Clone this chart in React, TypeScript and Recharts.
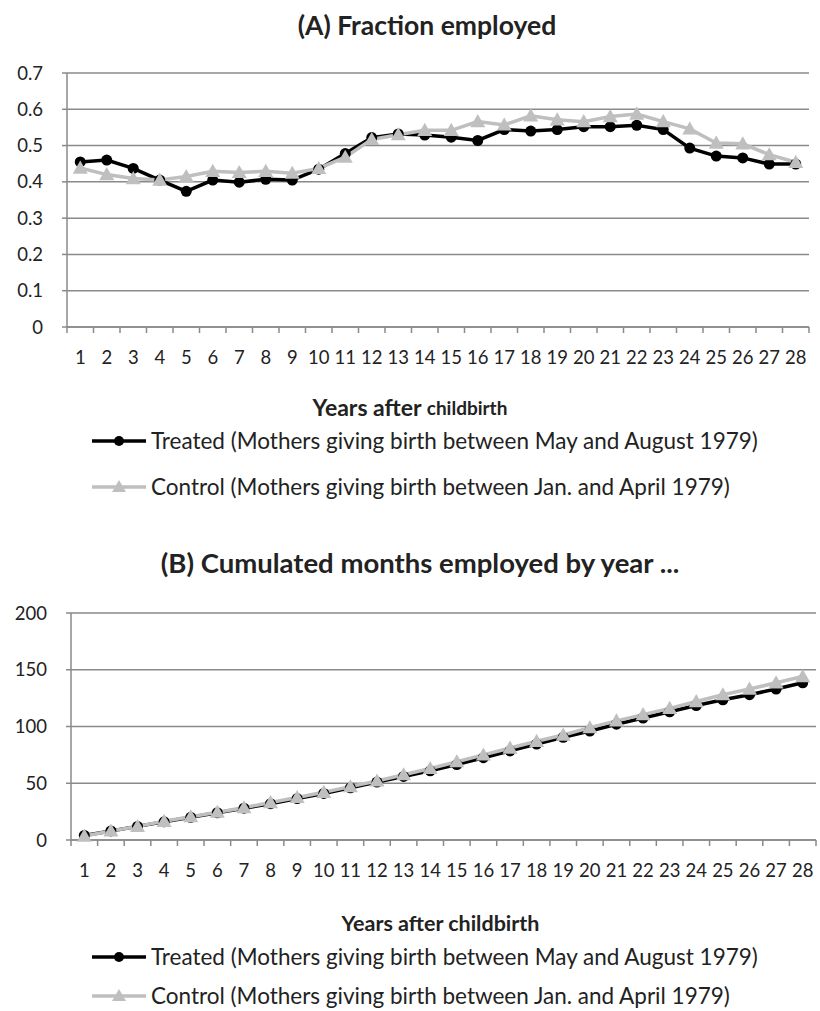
import React from 'react';
import { LineChart, Line, XAxis, YAxis, CartesianGrid, Legend } from 'recharts';

// Years after childbirth (x categories)
const years = [1, 2, 3, 4, 5, 6, 7, 8, 9, 10, 11, 12, 13, 14, 15, 16, 17, 18, 19, 20, 21, 22, 23, 24, 25, 26, 27, 28];

// Panel A: fraction employed
const treatedFraction = [0.455, 0.46, 0.437, 0.405, 0.374, 0.405, 0.399, 0.407, 0.405, 0.435, 0.478, 0.522, 0.532, 0.529, 0.523, 0.514, 0.544, 0.54, 0.544, 0.552, 0.552, 0.556, 0.544, 0.493, 0.471, 0.466, 0.449, 0.449];
const controlFraction = [0.438, 0.42, 0.409, 0.405, 0.415, 0.429, 0.426, 0.429, 0.424, 0.437, 0.468, 0.517, 0.53, 0.542, 0.542, 0.566, 0.557, 0.582, 0.571, 0.566, 0.58, 0.587, 0.566, 0.546, 0.507, 0.505, 0.475, 0.454];
const fractionTicks = [0, 0.1, 0.2, 0.3, 0.4, 0.5, 0.6, 0.7];

// Panel B: cumulated months employed
const treatedMonths = [4, 8, 12, 16, 20, 24, 28, 32, 36.5, 41, 46, 51, 56, 61, 66.5, 72.5, 78.5, 84.5, 90.5, 96, 102, 107.5, 113, 118.5, 123.5, 128, 133, 138.5];
const controlMonths = [3.5, 8, 12, 16.5, 20.5, 24.5, 28.5, 33, 37.5, 42, 47, 52, 57.5, 63, 69, 75, 81, 87, 92.5, 99, 105, 110.5, 116, 122, 128, 133, 138.5, 144];
const monthTicks = [0, 50, 100, 150, 200];

const treatedName = 'Treated (Mothers giving birth between May and August 1979)';
const controlName = 'Control (Mothers giving birth between Jan. and April 1979)';
const seriesOrder = ['treated', 'control'];

const FONT = 'Lato, "Open Sans", sans-serif';
const GRID = '#8a8a8a';
const TEXT = '#222222';
const TREATED = '#000000';
const CONTROL = '#bfbfbf';

const dataA = years.map((y, i) => ({ year: y, treated: treatedFraction[i], control: controlFraction[i] }));
const dataB = years.map((y, i) => ({ year: y, treated: treatedMonths[i], control: controlMonths[i] }));

const CircleDot = (props: any) => {
  const { cx, cy, index } = props;
  if (cx == null || cy == null) return null;
  return <circle key={`c-${index}`} cx={cx} cy={cy} r={5.5} fill={TREATED} />;
};

const TriangleDot = (props: any) => {
  const { cx, cy, index } = props;
  if (cx == null || cy == null) return null;
  const s = 7.5;
  return <path key={`t-${index}`} d={`M${cx},${cy - s} L${cx + s},${cy + s * 0.75} L${cx - s},${cy + s * 0.75} Z`} fill={CONTROL} />;
};

// Excel-like category axis: label in the middle, tick marks on the category edges
const makeXTick = (bandW: number, labelDy: number) => (props: any) => {
  const { x, y, payload, index } = props;
  const half = bandW / 2;
  return (
    <g>
      {index === 0 && <line x1={x - half} x2={x - half} y1={y} y2={y + 6} stroke={GRID} strokeWidth={1.5} />}
      <line x1={x + half} x2={x + half} y1={y} y2={y + 6} stroke={GRID} strokeWidth={1.5} />
      <text x={x} y={y + labelDy} textAnchor="middle" fill={TEXT} fontSize={18.5} fontFamily={FONT}>{payload.value}</text>
    </g>
  );
};

const LegendIcon = ({ kind }: { kind: string }) => (
  <svg width={54} height={18} style={{ display: 'block' }}>
    <line x1={0} y1={9} x2={54} y2={9} stroke={kind === 'treated' ? TREATED : CONTROL} strokeWidth={3.5} />
    {kind === 'treated'
      ? <circle cx={27} cy={9} r={5} fill={TREATED} />
      : <path d="M27,2 L34,14 L20,14 Z" fill={CONTROL} />}
  </svg>
);

const makeLegend = (rowH: number) => (props: any) => {
  const items = [...(props.payload || [])].sort(
    (a: any, b: any) => seriesOrder.indexOf(a.dataKey) - seriesOrder.indexOf(b.dataKey));
  return (
    <div style={{ paddingLeft: 92, fontFamily: FONT }}>
      {items.map((p: any) => (
        <div key={p.dataKey} style={{ height: rowH, display: 'flex', alignItems: 'center' }}>
          <LegendIcon kind={p.dataKey} />
          <span style={{ marginLeft: 5, fontSize: 22.5, lineHeight: '24px', color: TEXT, whiteSpace: 'nowrap' }}>{p.value}</span>
        </div>
      ))}
    </div>
  );
};

const makeAxisTitle = (dy: number, cxOffset: number, mixed: boolean) => (props: any) => {
  const vb = props.viewBox;
  return (
    <text x={vb.x + vb.width / 2 + cxOffset} y={vb.y + dy} textAnchor="middle" dominantBaseline="middle"
      fontFamily={FONT} fontWeight="bold" fill={TEXT} fontSize={mixed ? 23 : 21.5}>
      {mixed
        ? <><tspan>Years after </tspan><tspan fontSize={19}>childbirth</tspan></>
        : 'Years after childbirth'}
    </text>
  );
};

interface PanelProps {
  data: any[];
  height: number;
  yWidth: number;
  rightMargin: number;
  yDomain: number[];
  yTicks: number[];
  fmt: (v: number) => string;
  labelAxisH: number;
  labelDy: number;
  titleDy: number;
  titleDx: number;
  mixedTitle: boolean;
  rowH: number;
}

const CHART_W = 820;

const Panel: React.FC<PanelProps> = (p) => {
  const bandW = (CHART_W - p.yWidth - p.rightMargin) / years.length;
  return (
    <LineChart width={CHART_W} height={p.height} data={p.data} margin={{ top: 23, right: p.rightMargin, left: 0, bottom: 0 }}>
      <CartesianGrid horizontal vertical={false} stroke={GRID} strokeWidth={1.5} />
      <XAxis dataKey="year" type="number" domain={[0.5, 28.5]} ticks={years} interval={0}
        stroke={GRID} strokeWidth={1.5} tickLine={false} tickSize={0} tickMargin={0} height={p.labelAxisH}
        tick={makeXTick(bandW, p.labelDy)}
        label={makeAxisTitle(p.titleDy, p.titleDx, p.mixedTitle)} allowDataOverflow />
      <YAxis width={p.yWidth} domain={p.yDomain} ticks={p.yTicks} interval={0} tickFormatter={p.fmt}
        stroke={GRID} strokeWidth={1.5} tickSize={5} tickMargin={19}
        tick={{ fill: TEXT, fontSize: 18.5, fontFamily: FONT }} />
      <Legend verticalAlign="bottom" align="left" wrapperStyle={{ left: 0 }} content={makeLegend(p.rowH)} />
      <Line dataKey="treated" name={treatedName} stroke={TREATED} strokeWidth={3.5} dot={CircleDot} activeDot={false} isAnimationActive={false} />
      <Line dataKey="control" name={controlName} stroke={CONTROL} strokeWidth={3.5} dot={TriangleDot} activeDot={false} isAnimationActive={false} />
    </LineChart>
  );
};

const titleStyle: React.CSSProperties = { fontFamily: FONT, fontWeight: 'bold', color: TEXT, textAlign: 'center', whiteSpace: 'nowrap' };

export default function App() {
  return (
    <div style={{ position: 'absolute', left: 0, top: 0, width: CHART_W, background: '#fff' }}>
      <div style={{ ...titleStyle, fontSize: 26.5, height: 50, lineHeight: '50px', paddingLeft: 34 }}>(A) Fraction employed</div>
      <Panel data={dataA} height={460} yWidth={67} rightMargin={11} yDomain={[0, 0.7]} yTicks={fractionTicks}
        fmt={(v) => (v === 0 ? '0' : v.toFixed(1))} labelAxisH={91} labelDy={37} titleDy={83} titleDx={-28} mixedTitle rowH={46} />
      <div style={{ ...titleStyle, fontSize: 27.5, height: 80, paddingTop: 40, boxSizing: 'border-box', lineHeight: '26px', paddingLeft: 20 }}>
        (B) Cumulated months employed by year ...
      </div>
      <Panel data={dataB} height={425} yWidth={71} rightMargin={4} yDomain={[0, 200]} yTicks={monthTicks}
        fmt={(v) => String(v)} labelAxisH={97} labelDy={37} titleDy={85} titleDx={-3} mixedTitle={false} rowH={39} />
    </div>
  );
}
